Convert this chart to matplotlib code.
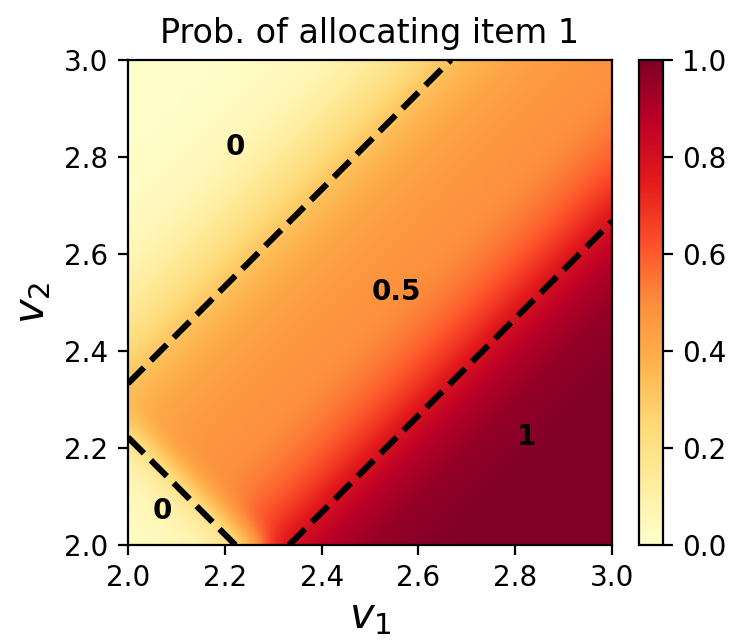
import numpy as np
import matplotlib
matplotlib.use("Agg")
import matplotlib.pyplot as plt

# grid of valuations (v1 along columns, v2 along rows, step 0.05)
v1_grid = [round(2.0 + 0.05 * j, 2) for j in range(21)]
v2_grid = [round(2.0 + 0.05 * i, 2) for i in range(21)]

# probability of allocating item 1, row = v2
prob = [
    [0.02, 0.03, 0.05, 0.08, 0.12, 0.28, 0.74, 0.82, 0.88, 0.92, 0.95, 0.97, 0.98, 0.99, 1.00, 1.00, 1.00, 1.00, 1.00, 1.00, 1.00],
    [0.03, 0.05, 0.08, 0.12, 0.28, 0.59, 0.65, 0.74, 0.82, 0.88, 0.92, 0.95, 0.97, 0.98, 0.99, 1.00, 1.00, 1.00, 1.00, 1.00, 1.00],
    [0.05, 0.08, 0.12, 0.28, 0.51, 0.54, 0.59, 0.65, 0.74, 0.82, 0.88, 0.92, 0.95, 0.97, 0.98, 0.99, 1.00, 1.00, 1.00, 1.00, 1.00],
    [0.08, 0.12, 0.28, 0.48, 0.49, 0.51, 0.54, 0.59, 0.65, 0.74, 0.82, 0.88, 0.92, 0.95, 0.97, 0.98, 0.99, 1.00, 1.00, 1.00, 1.00],
    [0.12, 0.28, 0.46, 0.47, 0.48, 0.49, 0.51, 0.54, 0.59, 0.65, 0.74, 0.82, 0.88, 0.92, 0.95, 0.97, 0.98, 0.99, 1.00, 1.00, 1.00],
    [0.28, 0.42, 0.44, 0.46, 0.47, 0.48, 0.49, 0.51, 0.54, 0.59, 0.65, 0.74, 0.82, 0.88, 0.92, 0.95, 0.97, 0.98, 0.99, 1.00, 1.00],
    [0.35, 0.39, 0.42, 0.44, 0.46, 0.47, 0.48, 0.49, 0.51, 0.54, 0.59, 0.65, 0.74, 0.82, 0.88, 0.92, 0.95, 0.97, 0.98, 0.99, 1.00],
    [0.30, 0.35, 0.39, 0.42, 0.44, 0.46, 0.47, 0.48, 0.49, 0.51, 0.54, 0.59, 0.65, 0.74, 0.82, 0.88, 0.92, 0.95, 0.97, 0.98, 0.99],
    [0.24, 0.30, 0.35, 0.39, 0.42, 0.44, 0.46, 0.47, 0.48, 0.49, 0.51, 0.54, 0.59, 0.65, 0.74, 0.82, 0.88, 0.92, 0.95, 0.97, 0.98],
    [0.18, 0.24, 0.30, 0.35, 0.39, 0.42, 0.44, 0.46, 0.47, 0.48, 0.49, 0.51, 0.54, 0.59, 0.65, 0.74, 0.82, 0.88, 0.92, 0.95, 0.97],
    [0.13, 0.18, 0.24, 0.30, 0.35, 0.39, 0.42, 0.44, 0.46, 0.47, 0.48, 0.49, 0.51, 0.54, 0.59, 0.65, 0.74, 0.82, 0.88, 0.92, 0.95],
    [0.09, 0.13, 0.18, 0.24, 0.30, 0.35, 0.39, 0.42, 0.44, 0.46, 0.47, 0.48, 0.49, 0.51, 0.54, 0.59, 0.65, 0.74, 0.82, 0.88, 0.92],
    [0.06, 0.09, 0.13, 0.18, 0.24, 0.30, 0.35, 0.39, 0.42, 0.44, 0.46, 0.47, 0.48, 0.49, 0.51, 0.54, 0.59, 0.65, 0.74, 0.82, 0.88],
    [0.04, 0.06, 0.09, 0.13, 0.18, 0.24, 0.30, 0.35, 0.39, 0.42, 0.44, 0.46, 0.47, 0.48, 0.49, 0.51, 0.54, 0.59, 0.65, 0.74, 0.82],
    [0.03, 0.04, 0.06, 0.09, 0.13, 0.18, 0.24, 0.30, 0.35, 0.39, 0.42, 0.44, 0.46, 0.47, 0.48, 0.49, 0.51, 0.54, 0.59, 0.65, 0.74],
    [0.02, 0.03, 0.04, 0.06, 0.09, 0.13, 0.18, 0.24, 0.30, 0.35, 0.39, 0.42, 0.44, 0.46, 0.47, 0.48, 0.49, 0.51, 0.54, 0.59, 0.65],
    [0.01, 0.02, 0.03, 0.04, 0.06, 0.09, 0.13, 0.18, 0.24, 0.30, 0.35, 0.39, 0.42, 0.44, 0.46, 0.47, 0.48, 0.49, 0.51, 0.54, 0.59],
    [0.01, 0.01, 0.02, 0.03, 0.04, 0.06, 0.09, 0.13, 0.18, 0.24, 0.30, 0.35, 0.39, 0.42, 0.44, 0.46, 0.47, 0.48, 0.49, 0.51, 0.54],
    [0.00, 0.01, 0.01, 0.02, 0.03, 0.04, 0.06, 0.09, 0.13, 0.18, 0.24, 0.30, 0.35, 0.39, 0.42, 0.44, 0.46, 0.47, 0.48, 0.49, 0.51],
    [0.00, 0.00, 0.01, 0.01, 0.02, 0.03, 0.04, 0.06, 0.09, 0.13, 0.18, 0.24, 0.30, 0.35, 0.39, 0.42, 0.44, 0.46, 0.47, 0.48, 0.49],
    [0.00, 0.00, 0.00, 0.01, 0.01, 0.02, 0.03, 0.04, 0.06, 0.09, 0.13, 0.18, 0.24, 0.30, 0.35, 0.39, 0.42, 0.44, 0.46, 0.47, 0.48],
]

# region boundaries (dashed)
upper_v1 = [2.0, 2.667]
upper_v2 = [2.333, 3.0]
lower_v1 = [2.333, 3.0]
lower_v2 = [2.0, 2.667]
corner_v1 = [2.0, 2.222]
corner_v2 = [2.222, 2.0]

# region annotations
region_labels = ["0", "0.5", "1", "0"]
region_v1 = [2.221, 2.555, 2.824, 2.071]
region_v2 = [2.821, 2.521, 2.222, 2.070]

fig = plt.figure(figsize=(3.675, 3.21), dpi=200)
ax = fig.add_axes([0.1741, 0.1511, 0.6585, 0.7555])
cax = fig.add_axes([0.8694, 0.1511, 0.0327, 0.7555])

# half a grid step around the outer nodes so pixel centres sit on the nodes
half = 0.025
img = ax.imshow(np.array(prob), cmap="YlOrRd", vmin=0, vmax=1, origin="lower",
                extent=[v1_grid[0] - half, v1_grid[-1] + half,
                        v2_grid[0] - half, v2_grid[-1] + half],
                aspect="auto", interpolation="bicubic")

for xs, ys in [(upper_v1, upper_v2), (lower_v1, lower_v2), (corner_v1, corner_v2)]:
    ax.plot(xs, ys, color="black", linestyle="--", linewidth=2.2)

for lab, x, y in zip(region_labels, region_v1, region_v2):
    ax.text(x, y, lab, ha="center", va="center", fontsize=10, fontweight="bold")

ax.set_xlim(2.0, 3.0)
ax.set_ylim(2.0, 3.0)
ax.set_xticks([2.0, 2.2, 2.4, 2.6, 2.8, 3.0])
ax.set_yticks([2.0, 2.2, 2.4, 2.6, 2.8, 3.0])
ax.set_xlabel("$v_1$", fontsize=15, labelpad=1)
ax.set_ylabel("$v_2$", fontsize=15, labelpad=4)
ax.set_title("Prob. of allocating item 1")

cb = fig.colorbar(img, cax=cax)
cb.set_ticks([0.0, 0.2, 0.4, 0.6, 0.8, 1.0])

fig.savefig("out.png", dpi=200)
